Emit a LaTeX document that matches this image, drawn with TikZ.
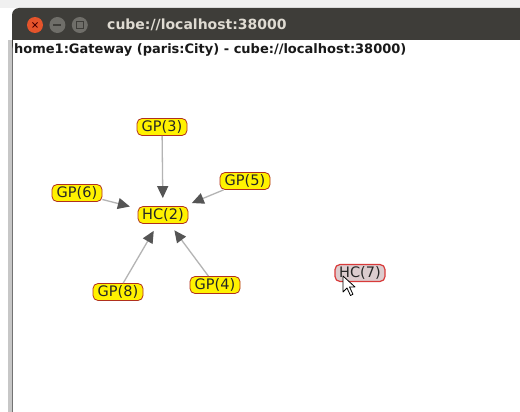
\documentclass[tikz,border=0pt]{standalone}
\usepackage{fontspec}
\setmainfont{DejaVu Sans}
\usetikzlibrary{arrows.meta, positioning}

\definecolor{barbg}{HTML}{3E3D39}
\definecolor{titletext}{HTML}{DFDBD2}
\definecolor{closeorange}{HTML}{E5542B}
\definecolor{btngray}{HTML}{6F6E69}
\definecolor{gpfill}{HTML}{FFF200}
\definecolor{gpborder}{HTML}{B0301E}
\definecolor{hcfill}{HTML}{DCCCCE}
\definecolor{hcborder}{HTML}{D83A3A}
\definecolor{edgegray}{HTML}{B4B4B4}
\definecolor{tipgray}{HTML}{555555}

\begin{document}
\begin{tikzpicture}[
    x=1pt, y=-1pt,
    gp/.style={draw=gpborder, line width=0.8pt, fill=gpfill, rounded corners=5pt,
        minimum width=50pt, minimum height=17pt, inner sep=0.5pt,
        text=black!85, font=\fontsize{14.5}{15}\selectfont},
    hc/.style={gp, fill=hcfill, draw=hcborder, line width=1.2pt},
    edge/.style={draw=edgegray, line width=1.3pt, shorten >=8pt,
        -{Triangle[length=12pt, width=11pt, color=tipgray]}},
    btn/.style={circle, minimum size=16pt, inner sep=0pt},
]
    \useasboundingbox (0,0) rectangle (520,412);
    \clip (0,0) rectangle (520,412);
    \fill[white] (0,0) rectangle (520,412);
    \fill[black!6] (0,0) rectangle (520,8);

    % window frame and title bar
    \fill[black!22] (8,40) rectangle (13,412);
    \draw[black!55, line width=0.8pt] (12.6,40) -- (12.6,412);
    \fill[barbg, rounded corners=7pt] (12,8) rectangle (540,52);
    \fill[white] (13,40) rectangle (520,60);

    \node[btn, fill=closeorange] (close) at (35,25) {};
    \node[btn, fill=btngray, right=6pt of close] (mini) {};
    \node[btn, fill=btngray, right=6pt of mini] (maxi) {};
    \draw[black!70!red, line width=1pt] ([shift={(-2.5,-2.5)}]close.center) -- ([shift={(2.5,2.5)}]close.center)
        ([shift={(-2.5,2.5)}]close.center) -- ([shift={(2.5,-2.5)}]close.center);
    \draw[barbg, line width=1.2pt] ([xshift=-4pt]mini.center) -- ([xshift=4pt]mini.center);
    \draw[barbg, line width=0.9pt] ([shift={(-3.5,-3.5)}]maxi.center) rectangle ([shift={(3.5,3.5)}]maxi.center);

    \node[anchor=base west, inner sep=0pt, text=titletext, font=\bfseries\fontsize{14}{16}\selectfont]
        (title) at (107,30) {cube://localhost:38000};
    \node[anchor=base west, inner sep=0pt, text=black!90, font=\bfseries\fontsize{13}{15}\selectfont]
        (header) at (14,54) {home1:Gateway (paris:City) - cube://localhost:38000)};

    % graph
    \node[gp] (h2) at (163,215) {HC(2)};
    \node[gp] (g3) at (162,127) {GP(3)};
    \node[gp] (g5) at (245,181) {GP(5)};
    \node[gp] (g6) at (77,193) {GP(6)};
    \node[gp] (g8) at (118,292) {GP(8)};
    \node[gp] (g4) at (215,285) {GP(4)};
    \node[hc] (h7) at (360,273) {HC(7)};

    \foreach \src in {g3, g5, g6, g8, g4}
        \draw[edge] (\src) -- (h2);

    % mouse pointer
    \draw[black, fill=white, line width=0.8pt, line join=round]
        (343,276) -- ++(0,16) -- ++(4,-4) -- ++(3.5,7.5) -- ++(2.5,-1.2)
        -- ++(-3.5,-7.3) -- ++(5.5,0) -- cycle;
\end{tikzpicture}
\end{document}
